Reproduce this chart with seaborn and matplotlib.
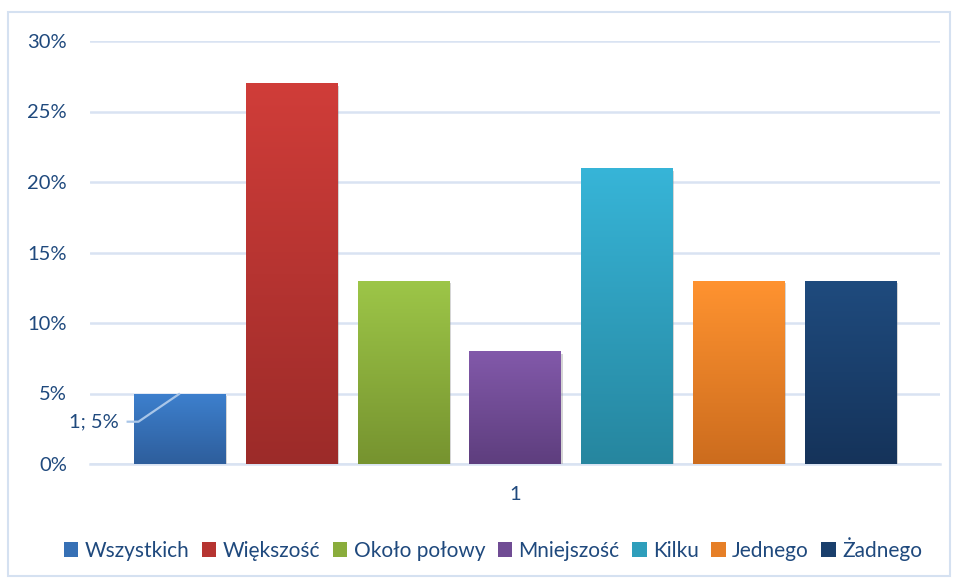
import numpy as np
import pandas as pd
import matplotlib
matplotlib.use("Agg")
import matplotlib.pyplot as plt
import seaborn as sns
from matplotlib.colors import LinearSegmentedColormap
from matplotlib.patches import Rectangle, Patch
import matplotlib.patheffects as pe

categories = ["Wszystkich", "Większość", "Około połowy", "Mniejszość", "Kilku", "Jednego", "Żadnego"]
values = [0.05, 0.27, 0.13, 0.08, 0.21, 0.13, 0.13]
group_label = "1"
yticks = [0, 0.05, 0.10, 0.15, 0.20, 0.25, 0.30]
ytick_labels = ["0%", "5%", "10%", "15%", "20%", "25%", "30%"]

top_colors = ["#3D80CE", "#D03D39", "#9DC648", "#8259AA", "#37B5D8", "#FF9330", "#1F4B7E"]
bottom_colors = ["#2E5E9C", "#9C2B29", "#76932F", "#5E3E7E", "#26869F", "#CC6C1E", "#15335A"]
mid_colors = ["#3670B5", "#B63431", "#8AAD3C", "#704C94", "#2E9EBB", "#E67F27", "#1A3F6C"]

text_color = "#1F497D"
grid_color = "#D9E3F2"

sns.set_theme(style="white")
plt.rcParams["font.family"] = ["Lato", "DejaVu Sans"]

df = pd.DataFrame({"grp": [group_label] * len(categories), "cat": categories, "val": values})

fig = plt.figure(figsize=(9.57, 5.81), dpi=100)
ax = fig.add_axes([90 / 957, 1 - 464 / 581, 850 / 957, 423 / 581])

sns.barplot(data=df, x="grp", y="val", hue="cat", hue_order=categories,
            palette=mid_colors, width=0.92, gap=0.185, legend=False, ax=ax,
            saturation=1, zorder=3)

ax.set_ylim(0, 0.30)
ax.set_xlim(-0.5, 0.5)
ax.set_yticks(yticks)
ax.set_yticklabels(ytick_labels)
ax.yaxis.grid(True, color=grid_color, linewidth=1.8, zorder=0)
ax.set_axisbelow(True)
for s in ["left", "right", "top"]:
    ax.spines[s].set_visible(False)
ax.spines["bottom"].set_color(grid_color)
ax.spines["bottom"].set_linewidth(1.8)
ax.set_xlabel("")
ax.set_ylabel("")
ax.tick_params(axis="y", length=0, pad=16.5, labelsize=14.5, labelcolor=text_color)
ax.tick_params(axis="x", length=0, pad=16, labelsize=14.5, labelcolor=text_color)
for lab in ax.get_yticklabels():
    lab.set_horizontalalignment("right")

# gradient fill on bars
bars = [p for p in ax.patches if isinstance(p, Rectangle)]
grad = np.linspace(0, 1, 256).reshape(-1, 1)
for bar, tc, bc in zip(bars, top_colors, bottom_colors):
    x0, y0 = bar.get_x(), bar.get_y()
    w, h = bar.get_width(), bar.get_height()
    cmap = LinearSegmentedColormap.from_list("g", [bc, tc])
    bar.set_edgecolor("none")
    bar.set_path_effects([pe.SimplePatchShadow(offset=(1.5, -2), shadow_rgbFace="#888888", alpha=0.35), pe.Normal()])
    im = ax.imshow(grad, extent=[x0, x0 + w, y0, y0 + h], origin="lower",
                   cmap=cmap, aspect="auto", zorder=4, interpolation="bicubic")
    im.set_clip_path(bar)

ax.set_xlim(-0.5, 0.5)
ax.set_ylim(0, 0.30)

# data label for first bar with leader line
b0 = bars[0]
bx = b0.get_x() + b0.get_width() / 2
by = b0.get_height()
label_y = 0.03
ax.text(-0.466, label_y, f"{group_label}; {int(round(values[0]*100))}%", ha="right", va="center",
        fontsize=14.5, color=text_color, zorder=6)
ax.plot([-0.457, -0.443, bx], [label_y, label_y, by], color="#A9C6E8", lw=1.6,
        zorder=6, solid_capstyle="butt", clip_on=False)

# legend
handles = [Patch(facecolor=c, edgecolor="none") for c in mid_colors]
fig.legend(handles, categories, loc="center", bbox_to_anchor=(493 / 957, 1 - 549 / 581),
           ncol=7, frameon=False, fontsize=15, handlelength=0.7, handleheight=0.7,
           handletextpad=0.3, columnspacing=0.6, labelcolor=text_color, borderaxespad=0)

# chart frame
fig.patches.append(Rectangle((8 / 957, 1 - 576 / 581), 942 / 957, 564 / 581,
                             transform=fig.transFigure, fill=False,
                             edgecolor="#D5E1F1", linewidth=1.5))

fig.savefig("out.png", dpi=100)
